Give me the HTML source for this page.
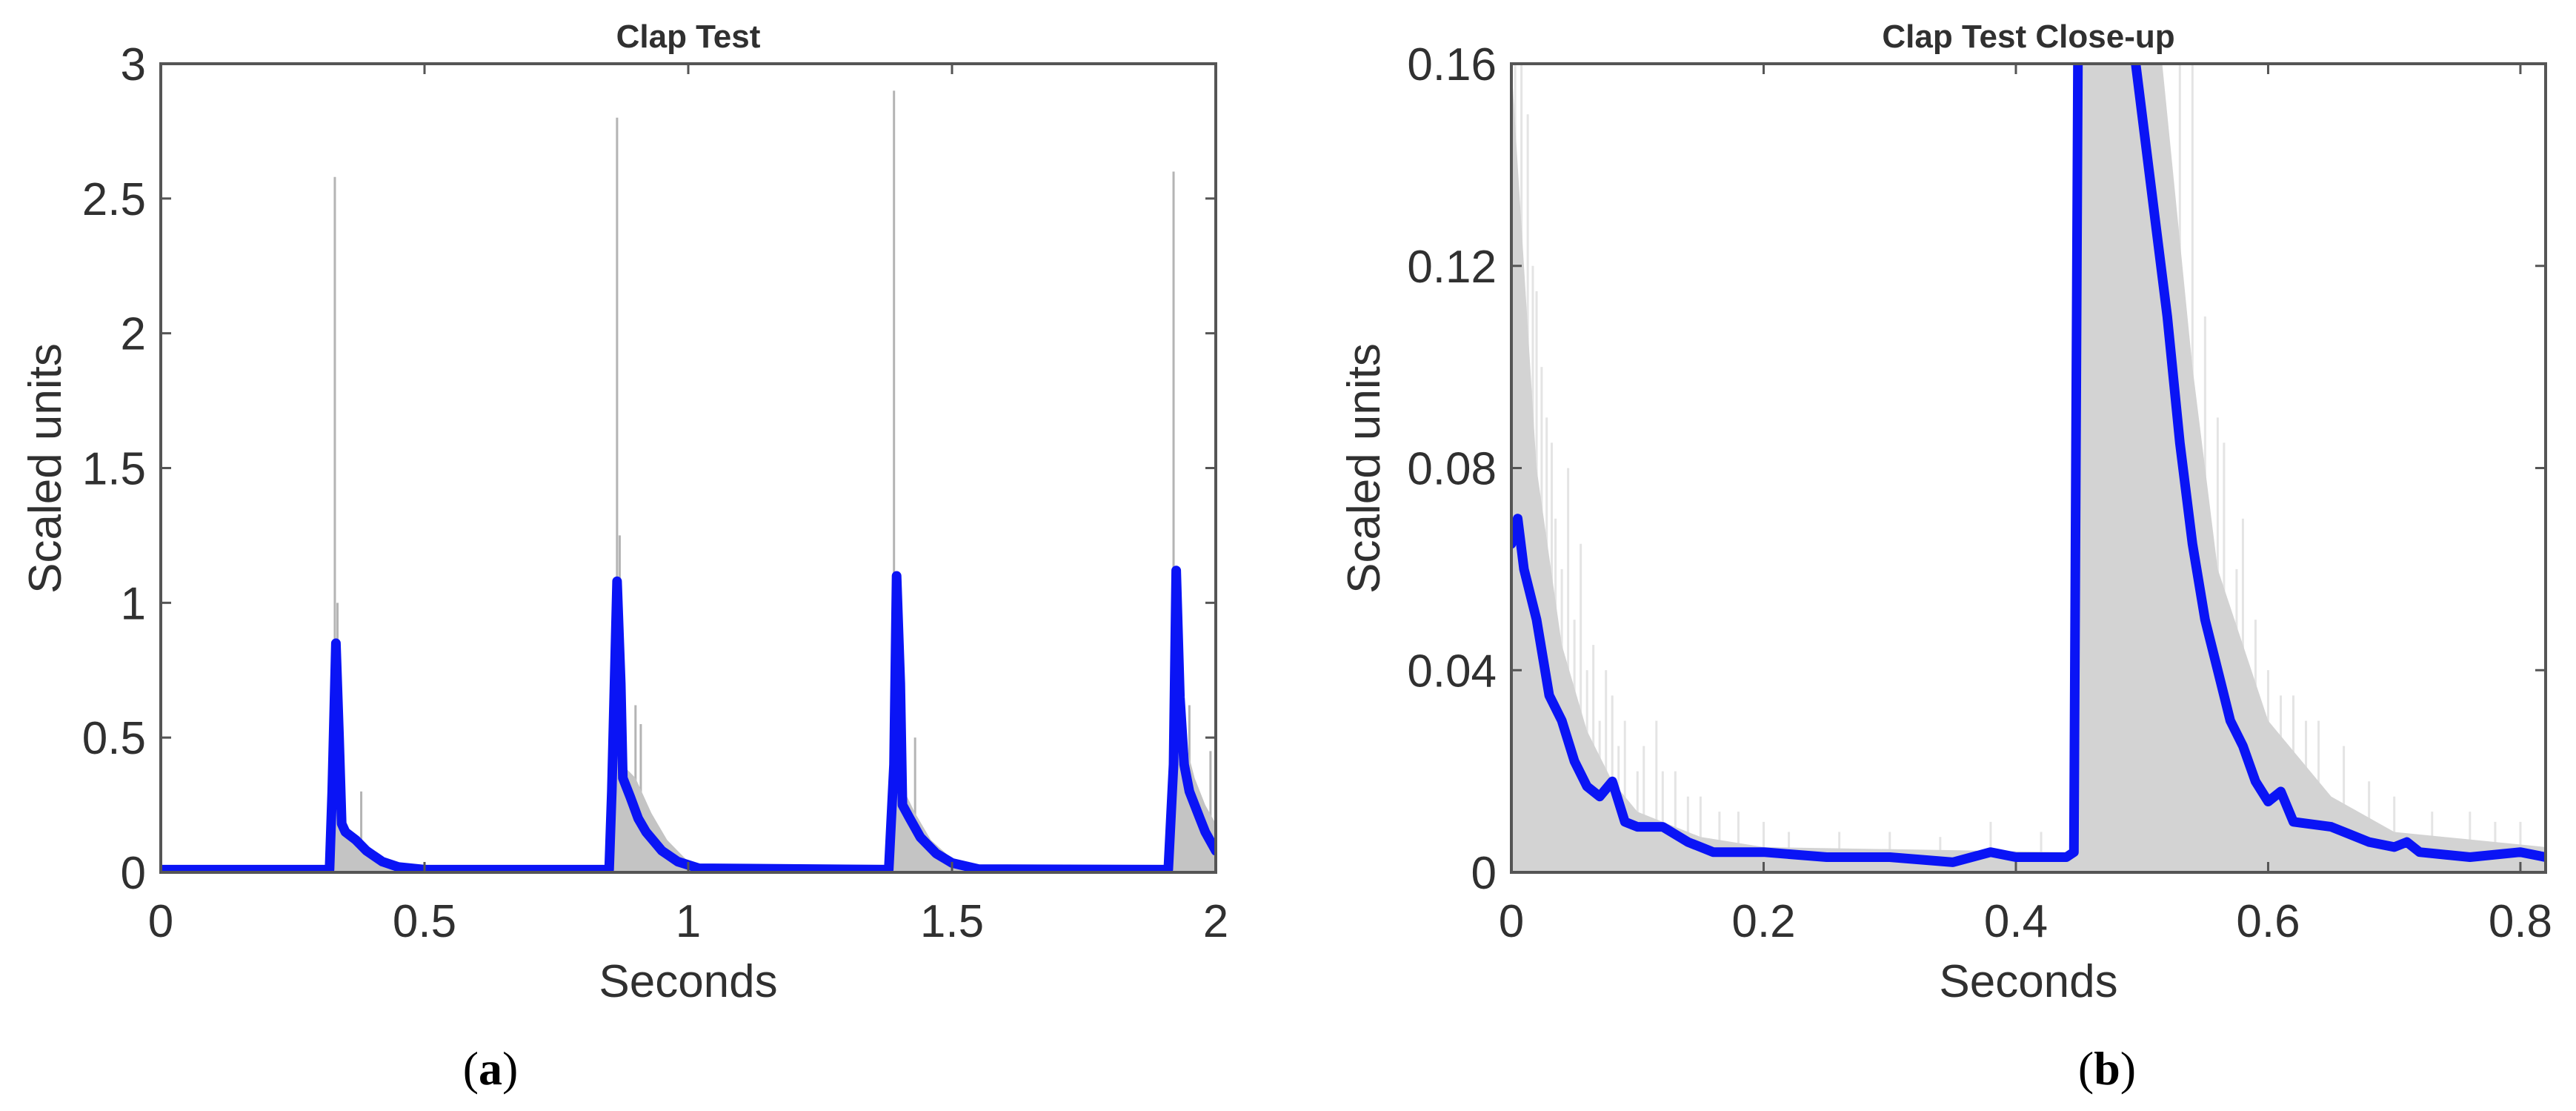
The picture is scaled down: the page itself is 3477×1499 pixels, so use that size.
<!DOCTYPE html>
<html><head><meta charset="utf-8"><style>
html,body{margin:0;padding:0;background:#fff;}
svg{display:block;}
text{font-family:"Liberation Sans",Arial,sans-serif;fill:#303030;}
</style></head><body>
<svg id="fig" width="3477" height="1499" viewBox="0 0 3477 1499" xmlns="http://www.w3.org/2000/svg"></svg>
<script>
// ---- Panel (a) data ----
const aXTicks=[0,0.5,1,1.5,2];
const aXTickLabels=["0","0.5","1","1.5","2"];
const aYTicks=[0,0.5,1,1.5,2,2.5,3];
const aYTickLabels=["0","0.5","1","1.5","2","2.5","3"];
const aBlueT=[0,0.32,0.325,0.332,0.338,0.343,0.35,0.37,0.39,0.42,0.45,0.5,0.85,0.855,0.865,0.872,0.876,0.89,0.905,0.92,0.95,0.98,1.02,1.38,1.39,1.395,1.402,1.406,1.42,1.44,1.47,1.5,1.55,1.91,1.92,1.925,1.932,1.94,1.95,1.96,1.97,1.98,2.0];
const aBlueV=[0.01,0.01,0.3,0.85,0.5,0.18,0.15,0.12,0.08,0.04,0.02,0.01,0.01,0.3,1.08,0.7,0.35,0.28,0.2,0.15,0.08,0.04,0.015,0.01,0.4,1.1,0.7,0.25,0.2,0.13,0.07,0.035,0.012,0.01,0.4,1.12,0.65,0.4,0.3,0.25,0.2,0.15,0.08];
const aFillT=[0,0.325,0.33,0.34,0.36,0.38,0.41,0.45,0.5,0.855,0.86,0.875,0.9,0.93,0.96,1.0,1.05,1.385,1.39,1.41,1.43,1.46,1.5,1.55,1.915,1.92,1.94,1.96,1.98,2.0];
const aFillV=[0,0,0.6,0.2,0.15,0.1,0.05,0.02,0.01,0,0.9,0.4,0.35,0.22,0.12,0.04,0.01,0,0.9,0.3,0.22,0.12,0.05,0.015,0,0.9,0.5,0.35,0.25,0.18];
const aSpikeT=[0.33,0.335,0.38,0.865,0.87,0.9,0.91,1.39,1.395,1.43,1.92,1.925,1.95,1.99];
const aSpikeV=[2.58,1.0,0.3,2.80,1.25,0.62,0.55,2.90,0.9,0.5,2.60,0.8,0.62,0.45];
// ---- Panel (b) data ----
const bXTicks=[0,0.2,0.4,0.6,0.8];
const bXTickLabels=["0","0.2","0.4","0.6","0.8"];
const bYTicks=[0,0.04,0.08,0.12,0.16];
const bYTickLabels=["0","0.04","0.08","0.12","0.16"];
const bBlueT=[0,0.005,0.01,0.02,0.03,0.04,0.05,0.06,0.07,0.08,0.09,0.1,0.12,0.14,0.16,0.2,0.25,0.3,0.35,0.38,0.4,0.44,0.446,0.45,0.495,0.5,0.51,0.52,0.53,0.54,0.55,0.56,0.57,0.58,0.59,0.6,0.61,0.62,0.65,0.68,0.7,0.71,0.72,0.76,0.8,0.82];
const bBlueV=[0.065,0.07,0.06,0.05,0.035,0.03,0.022,0.017,0.015,0.018,0.01,0.009,0.009,0.006,0.004,0.004,0.003,0.003,0.002,0.004,0.003,0.003,0.004,0.2,0.16,0.15,0.13,0.11,0.085,0.065,0.05,0.04,0.03,0.025,0.018,0.014,0.016,0.01,0.009,0.006,0.005,0.006,0.004,0.003,0.004,0.003];
const bFillT=[0,0.01,0.02,0.04,0.06,0.08,0.1,0.15,0.2,0.44,0.447,0.449,0.5,0.52,0.54,0.56,0.6,0.65,0.7,0.82];
const bFillV=[0.16,0.12,0.08,0.045,0.028,0.018,0.012,0.007,0.005,0.004,0.004,0.2,0.2,0.15,0.1,0.06,0.03,0.015,0.008,0.005];
const bSpikeT=[0.003,0.008,0.013,0.017,0.02,0.024,0.028,0.032,0.035,0.04,0.045,0.05,0.055,0.06,0.065,0.07,0.075,0.08,0.085,0.09,0.1,0.105,0.115,0.12,0.13,0.14,0.15,0.165,0.18,0.2,0.22,0.26,0.3,0.34,0.38,0.42,0.53,0.54,0.55,0.56,0.565,0.575,0.58,0.59,0.6,0.61,0.62,0.63,0.64,0.66,0.68,0.7,0.73,0.76,0.78,0.8];
const bSpikeV=[0.16,0.16,0.15,0.12,0.115,0.1,0.09,0.085,0.07,0.06,0.08,0.05,0.065,0.04,0.045,0.03,0.04,0.035,0.025,0.03,0.02,0.025,0.03,0.02,0.02,0.015,0.015,0.012,0.012,0.01,0.008,0.008,0.008,0.007,0.01,0.008,0.16,0.16,0.11,0.09,0.085,0.06,0.07,0.05,0.04,0.035,0.035,0.03,0.03,0.025,0.018,0.015,0.012,0.012,0.01,0.01];

const NS="http://www.w3.org/2000/svg";
const svg=document.getElementById('fig');
function mk(tag,attrs,parent,txt){const e=document.createElementNS(NS,tag);for(const k in attrs)e.setAttribute(k,attrs[k]);if(txt!==undefined)e.textContent=txt;(parent||svg).appendChild(e);return e;}

function panel(o){
  const g=mk('g',{});
  
  
  const L=o.L,R=o.R,T=86,B=1177;
  const sx=v=>L+(v-o.xmin)/(o.xmax-o.xmin)*(R-L);
  const sy=v=>B-(v-o.ymin)/(o.ymax-o.ymin)*(B-T);
  mk('clipPath',{id:o.name+'-clip'},g);
  const cp=g.lastChild; mk('rect',{x:L,y:T,width:R-L,height:B-T},cp);
  const plot=mk('g',{'clip-path':'url(#'+o.name+'-clip)'},g);
  for(let i=0;i<o.sT.length;i++){
    const l=mk('line',{x1:sx(o.sT[i]),x2:sx(o.sT[i]),y1:B,y2:sy(o.sV[i]),stroke:o.spikeColor,'stroke-width':3},plot);
    
    
  }
  let d='M'+sx(o.fT[0])+','+B;
  for(let i=0;i<o.fT.length;i++) d+=' L'+sx(o.fT[i]).toFixed(1)+','+sy(o.fV[i]).toFixed(1);
  d+=' L'+sx(o.fT[o.fT.length-1])+','+B+' Z';
  const f=mk('path',{d:d,fill:o.fillColor,stroke:'none'},plot);
  
  
  let pd='';
  for(let i=0;i<o.bT.length;i++) pd+=(i?' L':'M')+sx(o.bT[i]).toFixed(1)+','+sy(o.bV[i]).toFixed(1);
  const bl=mk('path',{d:pd,fill:'none',stroke:'#0a14f5','stroke-width':13,'stroke-linejoin':'round','stroke-linecap':'round'},plot);
  
  
  const bx=mk('rect',{x:L,y:T,width:R-L,height:B-T,fill:'none',stroke:'#555','stroke-width':4},g);
  
  
  o.xt.forEach((v,i)=>{
    const x=sx(v);
    mk('line',{x1:x,x2:x,y1:B,y2:B-14,stroke:'#555','stroke-width':3},g);
    mk('line',{x1:x,x2:x,y1:T,y2:T+14,stroke:'#555','stroke-width':3},g);
    const t=mk('text',{x:x,y:1264,'font-size':62,'text-anchor':'middle'},g,o.xl[i]);
    
    
  });
  o.yt.forEach((v,i)=>{
    const y=sy(v);
    mk('line',{x1:L,x2:L+14,y1:y,y2:y,stroke:'#555','stroke-width':3},g);
    mk('line',{x1:R,x2:R-14,y1:y,y2:y,stroke:'#555','stroke-width':3},g);
    const t=mk('text',{x:L-20,y:y+22,'font-size':62,'text-anchor':'end'},g,o.yl[i]);
    
    
  });
  const cx=(L+R)/2;
  const ti=mk('text',{x:cx,y:64,'font-size':44,'font-weight':'bold','text-anchor':'middle',fill:'#111'},g,o.title);
  
  
  const xa=mk('text',{x:cx,y:1345,'font-size':62,'text-anchor':'middle'},g,'Seconds');
  
  
  const yx=o.yTitleX, yy=632;
  const ya=mk('text',{x:yx,y:yy,'font-size':62,'text-anchor':'middle',transform:'rotate(-90 '+yx+' '+yy+')'},g,'Scaled units');
  
  
  const pl=mk('text',{x:o.labX,y:1463,'font-size':64,'text-anchor':'middle',style:'font-family:"Liberation Serif",serif;fill:#000'},g,'');
  
  
  mk('tspan',{},pl,'(');mk('tspan',{'font-weight':'bold'},pl,o.letter);mk('tspan',{},pl,')');
}
panel({name:'panel-a',L:217,R:1641,xmin:0,xmax:2,ymin:0,ymax:3,xt:aXTicks,xl:aXTickLabels,yt:aYTicks,yl:aYTickLabels,
  bT:aBlueT,bV:aBlueV,fT:aFillT,fV:aFillV,sT:aSpikeT,sV:aSpikeV,spikeColor:'#b4b4b4',fillColor:'#c4c4c4',title:'Clap Test',yTitleX:82,labX:662,letter:'a'});
panel({name:'panel-b',L:2040,R:3436,xmin:0,xmax:0.82,ymin:0,ymax:0.16,xt:bXTicks,xl:bXTickLabels,yt:bYTicks,yl:bYTickLabels,
  bT:bBlueT,bV:bBlueV,fT:bFillT,fV:bFillV,sT:bSpikeT,sV:bSpikeV,spikeColor:'#e4e4e4',fillColor:'#d3d3d3',title:'Clap Test Close-up',yTitleX:1862,labX:2844,letter:'b'});
</script>
</body></html>
